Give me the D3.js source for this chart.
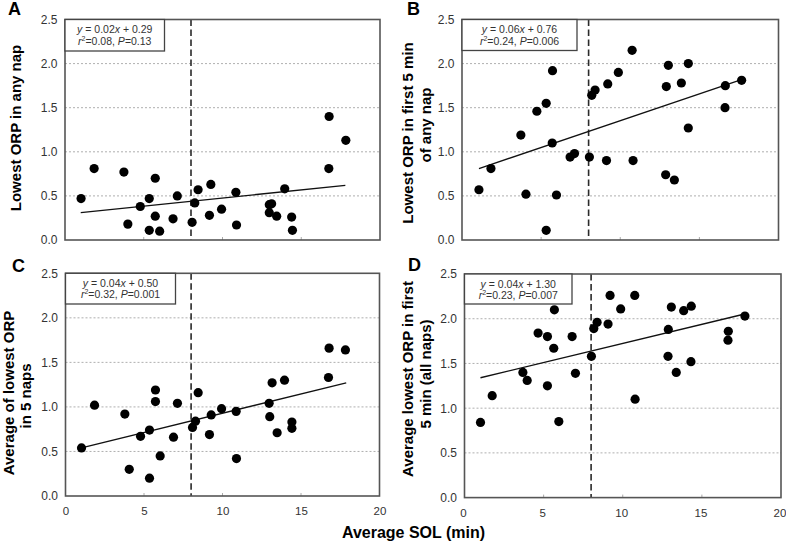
<!DOCTYPE html>
<html><head><meta charset="utf-8">
<script src="https://cdn.jsdelivr.net/npm/d3@7"></script>
<style>body{margin:0;background:#fff} svg{display:block}</style>
</head><body>
<svg id="c" width="786" height="542"></svg>
<script>
// ---- data ----
const solA = [1.02,1.85,3.74,3.99,4.78,5.35,5.35,5.73,5.73,6.01,6.86,7.13,8.07,8.24,8.45,9.17,9.26,9.94,10.85,10.89,12.97,13.12,12.97,13.44,13.95,14.39,14.44,16.77,16.75,17.83];
const orpA = [0.47,0.81,0.77,0.18,0.38,0.47,0.11,0.70,0.27,0.10,0.24,0.50,0.20,0.42,0.57,0.28,0.63,0.35,0.54,0.17,0.40,0.41,0.31,0.27,0.58,0.26,0.11,1.40,0.81,1.13];
const solB = [1.07,1.83,3.72,4.04,4.73,5.32,5.32,5.72,5.70,5.97,6.83,7.11,8.05,8.20,8.41,9.21,9.13,9.88,10.75,10.81,12.91,13.04,12.87,13.42,13.86,14.30,14.30,16.64,16.62,17.67];
const orpB = [0.57,0.81,1.19,0.52,1.46,1.55,0.11,1.92,1.10,0.51,0.94,0.98,0.94,1.64,1.70,1.77,0.90,1.90,2.15,0.90,1.74,1.98,0.74,0.68,1.78,2.00,1.27,1.75,1.50,1.81];
const solC = [1.02,1.85,3.78,4.06,4.78,5.35,5.35,5.73,5.73,6.03,6.88,7.13,8.09,8.28,8.45,9.17,9.28,9.94,10.87,10.89,12.97,13.01,13.16,13.48,13.95,14.42,14.42,16.79,16.75,17.83];
const orpC = [0.54,1.02,0.92,0.30,0.67,0.74,0.20,1.19,1.06,0.45,0.66,1.04,0.77,0.84,1.16,0.69,0.91,0.98,0.95,0.42,1.04,0.89,1.27,0.71,1.30,0.83,0.76,1.66,1.33,1.64];
const solD = [1.01,1.75,3.69,3.96,4.65,5.24,5.24,5.68,5.64,5.96,6.80,7.01,8.02,8.17,8.38,9.20,9.07,9.87,10.76,10.78,13.07,12.88,12.86,13.38,13.85,14.33,14.31,16.67,16.65,17.72];
const orpD = [0.84,1.14,1.40,1.31,1.84,1.80,1.25,2.10,1.67,0.85,1.80,1.39,1.58,1.89,1.96,2.26,1.94,2.11,2.26,1.10,2.13,1.88,1.58,1.40,2.09,2.14,1.52,1.86,1.76,2.03];
const fitA = [[1.0,0.31],[17.8,0.62]];
const fitB = [[1.07,0.81],[17.52,1.81]];
const fitC = [[1.02,0.54],[17.88,1.27]];
const fitD = [[1.01,1.34],[17.64,2.05]];
const slopes = ["0.02","0.06","0.04","0.04"];
const intercepts = ["0.29","0.76","0.50","1.30"];
const r2s = ["0.08","0.24","0.32","0.23"];
const pvals = ["0.13","0.006","0.001","0.007"];
const panelLetters = ["A","B","C","D"];
const yTitles = [["Lowest ORP in any nap"],["Lowest ORP in first 5 min","of any nap"],["Average of lowest ORP","in 5 naps"],["Average lowest ORP in first","5 min (all naps)"]];
const yTicks = [0,0.5,1.0,1.5,2.0,2.5];
const xTicks = [0,5,10,15,20];
const gridTicks = [0.5,1.0,1.5,2.0];
const cutoff = 8;
const xTitle = "Average SOL (min)";

// ---- layout ----
const panels = [
  {sol:solA, orp:orpA, fit:fitA, x0:65, x1:380, y0:19.5, y1:240, box:[65,19.5,164.5,51], lx:8, ly:14.5,
   tx:[21], ty:[128], showX:false, xdx:0},
  {sol:solB, orp:orpB, fit:fitB, x0:462, x1:778.5, y0:19.5, y1:240, box:[462,19.5,577,50.5], lx:407, ly:14.5,
   tx:[413,431], ty:[133,125], showX:false, xdx:0},
  {sol:solC, orp:orpC, fit:fitC, x0:65.5, x1:379.5, y0:273.3, y1:496, box:[65.5,273.3,175.5,304], lx:12, ly:272,
   tx:[14,31], ty:[393,396], showX:true, xdx:0},
  {sol:solD, orp:orpD, fit:fitD, x0:464.5, x1:781, y0:274, y1:497.6, box:[464.5,274,572,304], lx:408, ly:271,
   tx:[413,431], ty:[379,374], showX:true, xdx:-1.5}
];

const svg = d3.select("#c");
const FONT = "Liberation Sans, Arial, Helvetica, sans-serif";
svg.append("rect").attr("width",786).attr("height",542).attr("fill","#fff");

panels.forEach((p,i)=>{
  const x = d3.scaleLinear().domain([0,20]).range([p.x0,p.x1]);
  const y = d3.scaleLinear().domain([0,2.5]).range([p.y1,p.y0]);
  const g = svg.append("g");

  // gridlines
  g.selectAll(".grid").data(gridTicks).enter().append("line")
    .attr("x1",p.x0).attr("x2",p.x1).attr("y1",d=>y(d)).attr("y2",d=>y(d))
    .attr("stroke","#9a9a9a").attr("stroke-width",0.8).attr("stroke-dasharray","2,2");

  // x tick marks (inward)
  g.selectAll(".xt").data(xTicks.slice(1,-1)).enter().append("line")
    .attr("x1",d=>x(d)).attr("x2",d=>x(d)).attr("y1",p.y1).attr("y2",p.y1-3)
    .attr("stroke","#aaa").attr("stroke-width",1);

  // y tick labels via axis
  const ya = d3.axisLeft(y).tickValues(yTicks).tickFormat(d3.format(".1f")).tickSize(0).tickPadding(7.5);
  const yg = g.append("g").attr("transform",`translate(${p.x0},0)`).call(ya);
  yg.select(".domain").remove();
  yg.selectAll("text").attr("font-family",FONT).attr("font-size",12).attr("fill","#333");

  if(p.showX){
    const xa = d3.axisBottom(x).tickValues(xTicks).tickFormat(d3.format("d")).tickSize(0).tickPadding(11);
    const xg = g.append("g").attr("transform",`translate(0,${p.y1})`).call(xa);
    xg.select(".domain").remove();
    xg.selectAll("text").attr("font-family",FONT).attr("font-size",11.5).attr("fill","#333").attr("dx",p.xdx);
  }

  // cutoff dashed line
  g.append("line").attr("x1",x(cutoff)).attr("x2",x(cutoff)).attr("y1",p.y0).attr("y2",p.y1)
    .attr("stroke","#2a2a2a").attr("stroke-width",1.6).attr("stroke-dasharray","6.5,3.5");

  // regression line
  g.append("path").datum(p.fit)
    .attr("d",d3.line().x(d=>x(d[0])).y(d=>y(d[1])))
    .attr("stroke","#111").attr("stroke-width",1.3).attr("fill","none");

  // points
  const pts = p.sol.map((s,k)=>[s,p.orp[k]]);
  g.selectAll(".pt").data(pts).enter().append("circle")
    .attr("cx",d=>x(d[0])).attr("cy",d=>y(d[1])).attr("r",4.6).attr("fill","#000");

  // frame
  g.append("rect").attr("x",p.x0).attr("y",p.y0).attr("width",p.x1-p.x0).attr("height",p.y1-p.y0)
    .attr("fill","none").attr("stroke","#555").attr("stroke-width",1.6);

  // equation box
  const [bx0,by0,bx1,by1] = p.box;
  g.append("rect").attr("x",bx0).attr("y",by0).attr("width",bx1-bx0).attr("height",by1-by0)
    .attr("fill","#fff").attr("stroke","#444").attr("stroke-width",1.3);
  const cx = (bx0+bx1)/2;
  const t1 = g.append("text").attr("x",cx).attr("y",by0+13.5).attr("text-anchor","middle")
    .attr("font-family",FONT).attr("font-size",10.5).attr("fill","#333");
  t1.append("tspan").attr("font-style","italic").text("y");
  t1.append("tspan").text(` = ${slopes[i]}`);
  t1.append("tspan").attr("font-style","italic").text("x");
  t1.append("tspan").text(` + ${intercepts[i]}`);
  const t2 = g.append("text").attr("x",cx).attr("y",by0+25).attr("text-anchor","middle")
    .attr("font-family",FONT).attr("font-size",10.5).attr("fill","#333");
  t2.append("tspan").attr("font-style","italic").text("r");
  t2.append("tspan").attr("font-size",7).attr("dy",-4).text("2");
  t2.append("tspan").attr("dy",4).text(`=${r2s[i]}, `);
  t2.append("tspan").attr("font-style","italic").text("P");
  t2.append("tspan").text(`=${pvals[i]}`);

  // panel letter
  svg.append("text").attr("x",p.lx).attr("y",p.ly).attr("font-family",FONT)
    .attr("font-weight","bold").attr("font-size",18).attr("fill","#000").text(panelLetters[i]);

  // y title
  yTitles[i].forEach((line,k)=>{
    svg.append("text").attr("transform",`translate(${p.tx[k]},${p.ty[k]}) rotate(-90)`)
      .attr("text-anchor","middle").attr("font-family",FONT).attr("font-weight","bold")
      .attr("font-size",15).attr("fill","#000").text(line);
  });
});

svg.append("text").attr("x",413.5).attr("y",538).attr("text-anchor","middle")
  .attr("font-family",FONT).attr("font-weight","bold").attr("font-size",16).attr("fill","#000").text(xTitle);
</script>
</body></html>
